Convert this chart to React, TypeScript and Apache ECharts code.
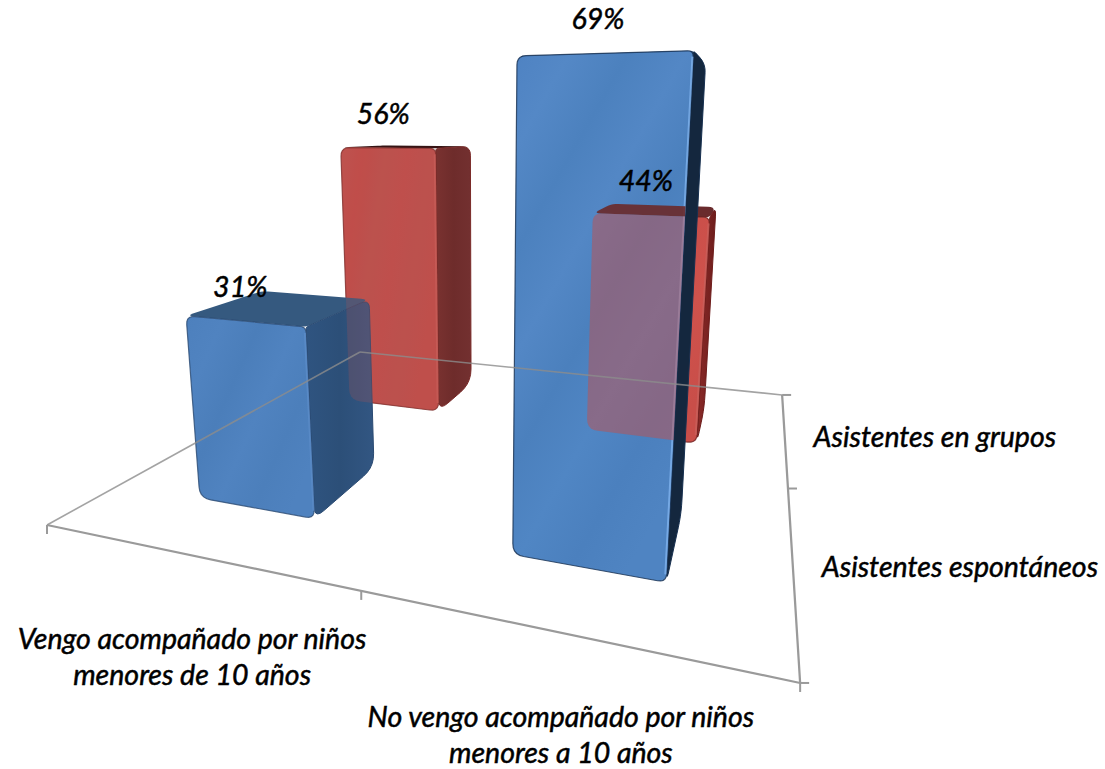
import React, { useEffect, useRef } from "react";
import * as echarts from "echarts";

const categories = ["Vengo acompañado por niños\nmenores de 10 años", "No vengo acompañado por niños\nmenores a 10 años"];
const depthNames = ["Asistentes espontáneos", "Asistentes en grupos"];
const espontaneos = [31, 69];
const grupos = [56, 44];
const seriesValues = [espontaneos, grupos];

// Perspective camera of the 3-D plot: floor (u, v in 0..1) + height (percent)
const CAM = {
  a: 525.9, b: 590.9, c: 47,
  d: -36, e: 98.7, f: 525,
  g: -0.284, h: 0.772,
  p: -0.78, q: -6.82, r: -0.00162,
};
const project = (u: number, v: number, z: number): number[] => {
  const w = CAM.g * u + CAM.h * v + 1 + CAM.r * z;
  return [(CAM.a * u + CAM.b * v + CAM.c + CAM.p * z) / w, (CAM.d * u + CAM.e * v + CAM.f + CAM.q * z) / w];
};
const HALF = 0.1;

const FONT = {
  fontFamily: "Lato", fontStyle: "italic", fontWeight: 400, fontSize: 28.5, fill: "#000",
  stroke: "#000", lineWidth: 0.5,
};

const grad = (x2: number, y2: number, stops: string[]) =>
  new echarts.graphic.LinearGradient(0, 0, x2, y2, stops.map((color, i) => ({ offset: i / (stops.length - 1), color })));

const STYLES: Record<string, any> = {
  "0-0": {
    front: () => grad(1, 0.7, ["#4d80bd", "#5083c0", "#4b7eba", "#5083c0", "#4c7fbb", "#4f82bf"]),
    side: () => grad(1, 0, ["#2f5480", "#2c4f78", "#325682"]),
    top: () => "#35597f", edge: "#2a4a72", hi: "#5b8cc8",
  },
  "1-0": {
    front: () => grad(0.6, 1, ["#4e82c2", "#5488c6", "#4c81be", "#5387c5", "#4b80bd", "#5086c4", "#4b80be", "#4f84c2"]),
    side: () => "#14273e", top: () => "#2c4c72", edge: "#173050", hi: "#7fb3ee",
  },
  "0-1": {
    front: () => grad(1, 0.4, ["#bd5450", "#c04c49", "#bb524e", "#bf4f4c", "#bb514e", "#bf4f4b"]),
    side: () => grad(1, 0, ["#7a3230", "#6e2c2b", "#733030"]),
    top: () => "#351414", edge: "#7a2a28", hi: "#c9605b",
  },
  "1-1": {
    front: () => grad(0.6, 1, ["#cf524c", "#c94e49", "#cf524c", "#c94e49"]),
    side: () => grad(1, 0, ["#8a2a28", "#6e1d1c"]),
    top: () => "#6a2b2d", edge: "#6e1d1c", hi: "#c9605b",
  },
};

// [category, depth, faces, overlay opacity, clip overlay to the blue bar's front?] in paint order
const paintOrder: [number, number, string[], number, boolean][] = [
  [0, 1, ["top", "side", "front"], 1, false],
  [0, 0, ["top", "side", "front"], 1, false],
  [0, 1, ["overlay"], 0.22, false],
  [1, 1, ["top", "side", "front"], 1, false],
  [1, 0, ["top", "side", "front"], 1, false],
  [1, 1, ["topOverlay", "overlay"], 0.5, true],
];

const barRows = paintOrder.map(([cat, dep], i) => [cat, dep, seriesValues[dep][cat], i]);

const roundedPoly = (pts: number[][], radii: number[]): number[][] => {
  const out: number[][] = [];
  const n = pts.length;
  pts.forEach((p, i) => {
    const prev = pts[(i + n - 1) % n];
    const next = pts[(i + 1) % n];
    const toward = (q: number[], r: number) => {
      const len = Math.hypot(q[0] - p[0], q[1] - p[1]) || 1;
      const k = Math.min(r, len / 2) / len;
      return [p[0] + (q[0] - p[0]) * k, p[1] + (q[1] - p[1]) * k];
    };
    const s = toward(prev, radii[i]);
    const e = toward(next, radii[i]);
    for (let t = 0; t <= 1.0001; t += 0.2) {
      const m = 1 - t;
      out.push([m * m * s[0] + 2 * m * t * p[0] + t * t * e[0], m * m * s[1] + 2 * m * t * p[1] + t * t * e[1]]);
    }
  });
  return out;
};

// keep the part of a polygon left of the line a -> b
const clipLeftOf = (pts: number[][], a: number[], b: number[]): number[][] => {
  const side = (p: number[]) => {
    const t = (p[1] - a[1]) / (b[1] - a[1]);
    return a[0] + (b[0] - a[0]) * t - p[0];
  };
  const out: number[][] = [];
  pts.forEach((p, i) => {
    const q = pts[(i + 1) % pts.length];
    const sp = side(p), sq = side(q);
    if (sp >= 0) out.push(p);
    if (sp >= 0 !== sq >= 0) {
      const t = sp / (sp - sq);
      out.push([p[0] + (q[0] - p[0]) * t, p[1] + (q[1] - p[1]) * t]);
    }
  });
  return out;
};

const renderBar = (_: any, api: any) => {
  const cat = api.value(0);
  const dep = api.value(1);
  const val = api.value(2);
  const [, , faces, alpha, clipped] = paintOrder[api.value(3)];
  const st = STYLES[`${cat}-${dep}`];
  const box = (c: number, d: number, z: number) => {
    const uc = 0.25 + c * 0.5;
    const vc = 0.25 + d * 0.5;
    const P = (u: number, v: number, h: number) => api.coord(project(u, v, h));
    const [u0, u1, v0, v1] = [uc - HALF, uc + HALF, vc - HALF, vc + HALF];
    return {
      fbl: P(u0, v0, 0), fbr: P(u1, v0, 0), ftl: P(u0, v0, z), ftr: P(u1, v0, z),
      bbr: P(u1, v1, 0), btr: P(u1, v1, z), btl: P(u0, v1, z),
    };
  };
  const { fbl, fbr, ftl, ftr, bbr, btr, btl } = box(cat, dep, val);
  const frontBlue = box(cat, 0, seriesValues[0][cat]);
  const cut = (pts: number[][]) => (clipped ? clipLeftOf(pts, frontBlue.ftr, frontBlue.fbr) : pts);
  const children: any[] = [];
  const topPts = roundedPoly([ftl, btl, btr, ftr], [8, 6, 8, 4]);
  const frontPts = roundedPoly([ftl, ftr, fbr, fbl], [9, 6, 9, 11]);
  faces.forEach((face) => {
    if (face === "top") {
      children.push({ type: "polygon", shape: { points: topPts }, style: { fill: st.top() } });
    }
    if (face === "topOverlay") {
      children.push({ type: "polygon", shape: { points: cut(topPts) }, style: { fill: st.top(), opacity: 0.92 } });
    }
    if (face === "side") {
      children.push({
        type: "polygon",
        shape: { points: roundedPoly([ftr, btr, bbr, fbr], [3, 9, 14, 12]) },
        style: { fill: st.side(), stroke: st.edge, lineWidth: 1 },
      });
    }
    if (face === "front") {
      children.push({
        type: "polygon",
        shape: { points: frontPts },
        style: { fill: st.front(), stroke: st.edge, lineWidth: 1.2, strokeOpacity: 0.8 },
      });
      children.push({
        type: "line",
        shape: { x1: ftr[0] - 1, y1: ftr[1] + 6, x2: fbr[0] - 1, y2: fbr[1] - 8 },
        style: { stroke: st.hi, lineWidth: 2, opacity: 0.8 },
      });
    }
    if (face === "overlay") {
      children.push({ type: "polygon", shape: { points: cut(frontPts) }, style: { fill: "#c0504d", opacity: alpha } });
    }
  });
  return { type: "group", children };
};

// floor edges: [u1, v1, u2, v2, back?]
const floorEdges = [
  [0, 1, 0, 0, 1],
  [0, 1, 1, 1, 1],
  [0, 0, 1, 0, 0],
  [1, 1, 1, 0, 0],
];
const uTicks = [0, 0.5, 1];
const vTicks = [0, 0.5, 1];

const renderFloor = (_: any, api: any) => {
  const i = api.value(0);
  const e = floorEdges[i];
  const A = api.coord(project(e[0], e[1], 0));
  const B = api.coord(project(e[2], e[3], 0));
  return {
    type: "line",
    shape: { x1: A[0], y1: A[1], x2: B[0], y2: B[1] },
    style: e[4] ? { stroke: "#8c8c8c", lineWidth: 1.6, opacity: 0.8 } : { stroke: "#9a9a9a", lineWidth: 2.2 },
  };
};

const renderTick = (_: any, api: any) => {
  const isU = api.value(0) === 0;
  const t = api.value(1);
  const A = api.coord(isU ? project(t, 0, 0) : project(1, t, 0));
  return {
    type: "line",
    shape: { x1: A[0], y1: A[1], x2: A[0] + (isU ? 0 : 9), y2: A[1] + (isU ? 9 : 0) },
    style: { stroke: "#9a9a9a", lineWidth: 2 },
  };
};

const renderValueLabel = (_: any, api: any) => {
  const cat = api.value(0);
  const dep = api.value(1);
  const val = api.value(2);
  const A = api.coord(project(0.25 + cat * 0.5, 0.25 + dep * 0.5 - HALF, val));
  return {
    type: "text",
    style: { ...FONT, text: `${val}%`, x: A[0] - 4, y: A[1] - 35, align: "center", verticalAlign: "middle" },
  };
};

const renderCatLabel = (_: any, api: any) => {
  const i = api.value(0);
  const A = api.coord(project(0.25 + i * 0.5, 0, 0));
  return {
    type: "text",
    style: {
      ...FONT, text: categories[i], x: A[0], y: A[1] + 101, align: "center", verticalAlign: "middle", lineHeight: 36,
    },
  };
};

const renderDepthLabel = (_: any, api: any) => {
  const i = api.value(0);
  const A = api.coord(project(1, 0.25 + i * 0.5, 0));
  return {
    type: "text",
    style: { ...FONT, text: depthNames[i], x: A[0] + 29, y: A[1] + 1, align: "left", verticalAlign: "middle" },
  };
};

const custom = (renderItem: any, data: any[], z: number) => ({
  type: "custom", renderItem, data, z, silent: true, clip: false, animation: false,
});

const option: any = {
  animation: false,
  backgroundColor: "#fff",
  grid: { left: 0, right: 0, top: 0, bottom: 0 },
  xAxis: { type: "value", min: 0, max: 1105, show: false },
  yAxis: { type: "value", min: 0, max: 769, inverse: true, show: false },
  series: [
    custom(renderBar, barRows, 2),
    custom(renderFloor, floorEdges.map((_, i) => [i]), 3),
    custom(renderTick, [...uTicks.map((t) => [0, t]), ...vTicks.map((t) => [1, t])], 3),
    custom(renderValueLabel, seriesValues.flatMap((vals, dep) => vals.map((v, cat) => [cat, dep, v])), 4),
    custom(renderCatLabel, categories.map((_, i) => [i]), 4),
    custom(renderDepthLabel, depthNames.map((_, i) => [i]), 4),
  ],
};

export default function App() {
  const ref = useRef<HTMLDivElement>(null);
  useEffect(() => {
    document.body.style.margin = "0";
    document.body.style.overflow = "hidden";
    const chart = echarts.init(ref.current!, undefined, { renderer: "svg" });
    chart.setOption(option);
    return () => chart.dispose();
  }, []);
  return <div ref={ref} style={{ width: 1105, height: 769 }} />;
}
